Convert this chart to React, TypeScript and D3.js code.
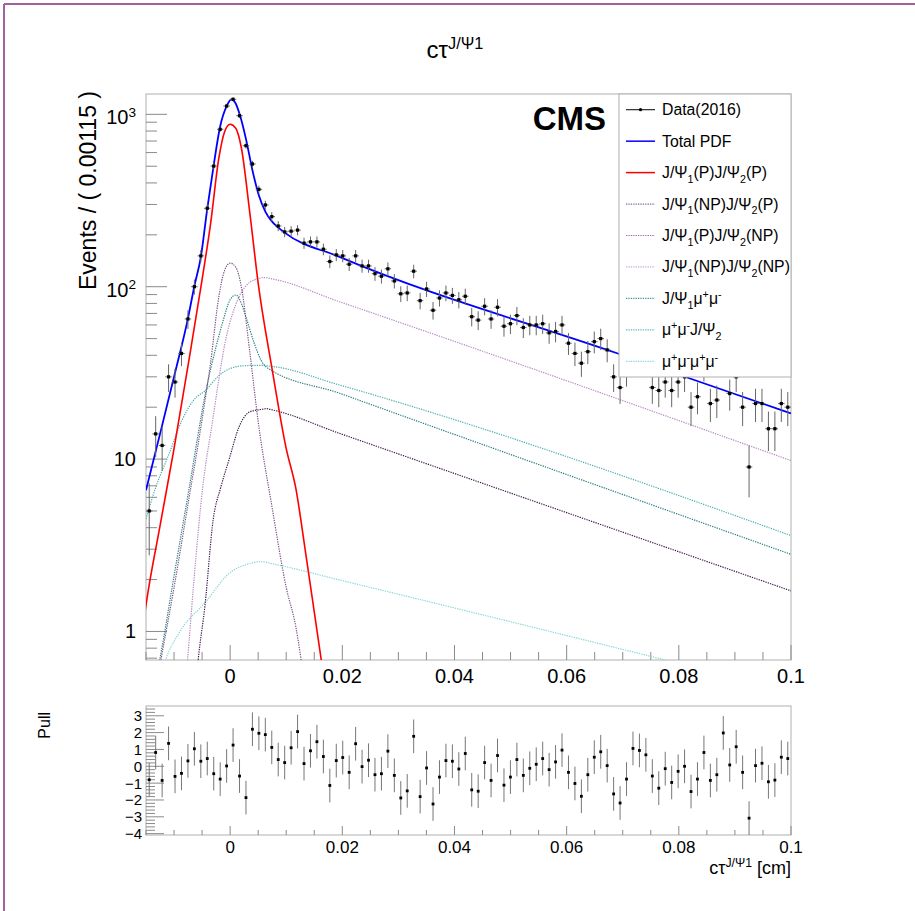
import React from 'react';
import * as d3 from 'd3';

// ---------- data ----------
const xMin = -0.015;
const xMax = 0.1;
const binWidth = 0.00115;

const dataCounts = [
  5, 14, 12, 30, 28, 41, 65, 100, 151, 285,
  501, 819, 1117, 1222, 982, 658, 515, 367, 298, 255,
  225, 208, 210, 213, 179, 182, 182, 165, 140, 153,
  151, 135, 151, 132, 132, 119, 115, 127, 108, 91,
  92, 123, 83, 97, 73, 86, 92, 89, 84, 88,
  67, 64, 77, 65, 76, 59, 61, 68, 58, 60,
  60, 61, 54, 55, 60, 47, 41, 36, 42, 48,
  50, 43, 30, 26, 32, 42, 40, 36, 26, 25,
  28, 25, 28, 30, 20, 23, 34, 21, 22, 36,
  24, 30, 20, 9, 21, 21, 15, 15, 21, 20,
];

const pullValues = [
  -0.8, 0.82, -0.84, 1.36, -0.6, -0.42, 0.32, 1.04, 0.3, 0.46,
  -0.44, -0.76, 0.02, 1.26, -0.58, -1.86, 2.2, 1.96, 1.88, 1.12,
  0.4, 0.22, 1.1, 2.06, 0.16, 0.92, 1.46, 0.58, -1.14, 0.34,
  0.52, -0.36, 1.34, -0.02, 0.36, -0.5, -0.44, 0.9, -0.54, -1.88,
  -1.46, 1.78, -1.8, -0.1, -2.24, -0.64, 0.34, 0.3, -0.16, 0.76,
  -1.4, -1.48, 0.22, -0.84, 0.64, -1.12, -0.64, 0.4, -0.54, -0.12,
  0.12, 0.46, -0.2, 0.26, 0.96, -0.36, -1.02, -1.78, -0.5, 0.54,
  0.86, 0.04, -1.64, -2.18, -0.76, 1.06, 0.94, 0.68, -0.58, -1.3,
  -0.14, -0.96, -0.3, 0, -1.5, -0.76, 0.82, -0.84, -0.5, 1.98,
  0.08, 1.16, -0.36, -3.08, 0.04, 0.18, -0.92, -0.82, 0.54, 0.46,
];

// fit curves: [ctau, events]
const totalPdf: [number, number][] = [
  [-0.015, 6.6], [-0.0125, 14], [-0.01, 30], [-0.0075, 66], [-0.0064, 100],
  [-0.0052, 150], [-0.0041, 280], [-0.0029, 515], [-0.0018, 845], [-0.0006, 1120],
  [0.0002, 1222], [0.0009, 1170], [0.0017, 1000], [0.0028, 725], [0.004, 470],
  [0.0051, 340], [0.0063, 272], [0.0074, 240], [0.0086, 220], [0.0097, 206],
  [0.0195, 149], [0.069, 41.1], [0.1, 18.4],
];
const promptPrompt: [number, number][] = [
  [-0.0165, 0.6], [-0.015, 1.42], [-0.0125, 4.1], [-0.01, 11.5], [-0.0075, 35],
  [-0.005, 110], [-0.0035, 230], [-0.002, 560], [-0.001, 790], [0, 875],
  [0.001, 830], [0.002, 640], [0.0035, 270], [0.005, 105], [0.0075, 33],
  [0.01, 11.5], [0.0117, 6.8], [0.0135, 2.8], [0.015, 1.3], [0.0165, 0.6],
];
const nonpromptPrompt: [number, number][] = [
  [-0.0065, 0.35], [-0.0057, 0.683], [-0.0045, 1.4], [-0.003, 4.5], [-0.0017, 6.8],
  [-0.0002, 9.9], [0.0016, 15.4], [0.0035, 18.8], [0.0055, 19.4], [0.0065, 19.6],
  [0.0075, 19.3], [0.0195, 14.1], [0.1, 1.72],
];
const promptNonprompt: [number, number][] = [
  [-0.015, 0.22], [-0.0125, 0.64], [-0.01, 1.8], [-0.0075, 5.5], [-0.005, 17],
  [-0.0035, 36], [-0.002, 88], [-0.001, 124], [0, 137], [0.001, 130],
  [0.002, 100], [0.0035, 42], [0.005, 16.5], [0.0075, 5.2], [0.01, 1.8],
  [0.0117, 1.07], [0.0135, 0.44], [0.015, 0.2],
];
const nonpromptNonprompt: [number, number][] = [
  [-0.0085, 0.35], [-0.0076, 0.683], [-0.0065, 1.9], [-0.0049, 6.8], [-0.0032, 16.1],
  [-0.0008, 49], [0.0016, 87.5], [0.0035, 106], [0.0045, 110], [0.006, 113],
  [0.0075, 111], [0.0195, 81.8], [0.1, 9.8],
];
const jpsi1MuMu: [number, number][] = [
  [-0.015, 0.3], [-0.0125, 0.7], [-0.01, 2.1], [-0.0073, 6.8], [-0.0043, 25],
  [-0.0025, 45], [-0.0014, 61], [0, 84], [0.001, 89.5], [0.002, 80],
  [0.0028, 67], [0.0043, 47], [0.0055, 37.5], [0.0064, 34.3], [0.0195, 24.1],
  [0.1, 2.8],
];
const muMuJpsi2: [number, number][] = [
  [-0.015, 4.5], [-0.0133, 6.8], [-0.011, 10.5], [-0.0085, 17], [-0.0065, 22],
  [-0.0043, 25.2], [-0.002, 30.5], [0, 33.5], [0.0025, 34.8], [0.0052, 35],
  [0.0075, 34.5], [0.0195, 26.9], [0.1, 3.6],
];
const muMuMuMu: [number, number][] = [
  [-0.013, 0.45], [-0.0115, 0.683], [-0.0091, 0.98], [-0.0043, 1.49], [-0.0002, 2.17],
  [0.003, 2.45], [0.0055, 2.54], [0.008, 2.45], [0.0195, 1.99], [0.1, 0.45],
];

const mainYTicks = [1, 10, 100, 1000];
const mainXTicks = [0, 0.02, 0.04, 0.06, 0.08, 0.1];
const pullYTicks = [3, 2, 1, 0, -1, -2, -3, -4];

// ---------- layout ----------
const W = 915;
const H = 911;
const L = 146, R = 791;
const T1 = 94, B1 = 660;
const T2 = 706, B2 = 835;

const FONT = '"Liberation Sans", Arial, Helvetica, sans-serif';

type Seg = { t: string; sub?: boolean; sup?: boolean };

function RichText({ segs, x, y, size, anchor = 'start', fill = '#000', transform }: {
  segs: Seg[]; x: number; y: number; size: number; anchor?: string; fill?: string; transform?: string;
}) {
  const small = size * 0.68;
  let cur = 0;
  return (
    <text x={x} y={y} fontSize={size} fontFamily={FONT} textAnchor={anchor} fill={fill} transform={transform}>
      {segs.map((s, i) => {
        const target = s.sub ? size * 0.3 : s.sup ? -size * 0.38 : 0;
        const dy = target - cur;
        cur = target;
        return (
          <tspan key={i} dy={dy} fontSize={s.sub || s.sup ? small : size}>{s.t}</tspan>
        );
      })}
    </text>
  );
}

export default function App() {
  const xs = d3.scaleLinear().domain([xMin, xMax]).range([L, R]);
  const ys = d3.scaleLog().domain([0.683, 1312]).range([B1, T1]);
  const yp = d3.scaleLinear().domain([-4.08, 3.58]).range([B2, T2]);

  const line = d3.line<[number, number]>()
    .x((d) => xs(d[0]))
    .y((d) => ys(d[1]))
    .curve(d3.curveMonotoneX);

  const bins = dataCounts.map((n, i) => ({
    x: xMin + binWidth * (i + 0.5),
    n,
    err: Math.sqrt(n),
    pull: pullValues[i],
  }));

  const logMinor: number[] = [];
  for (let e = -1; e <= 3; e++) {
    for (let k = 2; k <= 9; k++) {
      const v = k * Math.pow(10, e);
      if (v > 0.683 && v < 1312) logMinor.push(v);
    }
  }
  const xMinor: number[] = [];
  for (let k = -3; k <= 20; k++) {
    const v = k * 0.005;
    if (v >= xMin - 1e-9 && v <= xMax + 1e-9 && Math.abs(v / 0.02 - Math.round(v / 0.02)) > 1e-6) xMinor.push(v);
  }
  const pullMinor: number[] = [];
  for (let k = -20; k <= 17; k++) {
    const v = k * 0.2;
    if (v >= -4.08 && v <= 3.58 && Math.abs(v - Math.round(v)) > 1e-6) pullMinor.push(v);
  }

  const axisCol = '#8a8a8a';
  const dotted = '1.3 1.1';

  const curves = [
    { d: muMuMuMu, color: '#86d6d6', dash: dotted, w: 1.2 },
    { d: muMuJpsi2, color: '#4eb0b0', dash: dotted, w: 1.2 },
    { d: jpsi1MuMu, color: '#2a7f80', dash: dotted, w: 1.2 },
    { d: nonpromptNonprompt, color: '#b58ac4', dash: dotted, w: 1.2 },
    { d: promptNonprompt, color: '#7a5587', dash: dotted, w: 1.2 },
    { d: nonpromptPrompt, color: '#3f1c4c', dash: dotted, w: 1.2 },
    { d: promptPrompt, color: '#ff0000', dash: undefined, w: 1.6 },
    { d: totalPdf, color: '#0000ff', dash: undefined, w: 1.8 },
  ];

  const legendItems: { segs: Seg[]; color: string; dash?: string; w: number; data?: boolean }[] = [
    { segs: [{ t: 'Data(2016)' }], color: '#000', w: 1, data: true },
    { segs: [{ t: 'Total PDF' }], color: '#0000ff', w: 1.5 },
    { segs: [{ t: 'J/Ψ' }, { t: '1', sub: true }, { t: '(P)J/Ψ' }, { t: '2', sub: true }, { t: '(P)' }], color: '#ff0000', w: 1.5 },
    { segs: [{ t: 'J/Ψ' }, { t: '1', sub: true }, { t: '(NP)J/Ψ' }, { t: '2', sub: true }, { t: '(P)' }], color: '#7d6a8a', dash: dotted, w: 1.2 },
    { segs: [{ t: 'J/Ψ' }, { t: '1', sub: true }, { t: '(P)J/Ψ' }, { t: '2', sub: true }, { t: '(NP)' }], color: '#9a6aa5', dash: dotted, w: 1.2 },
    { segs: [{ t: 'J/Ψ' }, { t: '1', sub: true }, { t: '(NP)J/Ψ' }, { t: '2', sub: true }, { t: '(NP)' }], color: '#c9a9d4', dash: dotted, w: 1.2 },
    { segs: [{ t: 'J/Ψ' }, { t: '1', sub: true }, { t: 'μ' }, { t: '+', sup: true }, { t: 'μ' }, { t: '-', sup: true }], color: '#3a9a9a', dash: dotted, w: 1.2 },
    { segs: [{ t: 'μ' }, { t: '+', sup: true }, { t: 'μ' }, { t: '-', sup: true }, { t: 'J/Ψ' }, { t: '2', sub: true }], color: '#5cbcbc', dash: dotted, w: 1.2 },
    { segs: [{ t: 'μ' }, { t: '+', sup: true }, { t: 'μ' }, { t: '-', sup: true }, { t: 'μ' }, { t: '+', sup: true }, { t: 'μ' }, { t: '-', sup: true }], color: '#8ad8d8', dash: dotted, w: 1.2 },
  ];
  const legL = 619, legT = 94, legR = 791, legB = 377;
  const legStep = (legB - legT) / legendItems.length;

  const titleSegs: Seg[] = [{ t: 'cτ' }, { t: 'J/Ψ1', sup: true }];
  const xTitleSegs: Seg[] = [{ t: 'cτ' }, { t: 'J/Ψ1', sup: true }, { t: ' [cm]' }];

  return (
    <div style={{ position: 'absolute', left: 0, top: 0 }}>
      <svg width={W} height={H} style={{ display: 'block', background: '#fff' }}>
        <defs>
          <clipPath id="mainClip">
            <rect x={L} y={T1} width={R - L} height={B1 - T1} />
          </clipPath>
          <clipPath id="pullClip">
            <rect x={L} y={T2} width={R - L} height={B2 - T2} />
          </clipPath>
        </defs>

        <line x1={4} y1={4} x2={W} y2={4} stroke="#a0619c" strokeWidth={2} />
        <line x1={4} y1={4} x2={4} y2={H} stroke="#a0619c" strokeWidth={2} />

        <RichText segs={titleSegs} x={455} y={58} size={24} anchor="middle" />

        {/* ---------- main pad ---------- */}
        <rect x={L} y={T1} width={R - L} height={B1 - T1} fill="none" stroke="#b0b0b0" strokeWidth={1} />

        {mainYTicks.map((v) => (
          <line key={'ym' + v} x1={L} x2={L + 21} y1={ys(v)} y2={ys(v)} stroke={axisCol} strokeWidth={1} />
        ))}
        {logMinor.map((v) => (
          <line key={'yn' + v} x1={L} x2={L + 11} y1={ys(v)} y2={ys(v)} stroke={axisCol} strokeWidth={1} />
        ))}
        {mainXTicks.map((v) => (
          <line key={'xm' + v} x1={xs(v)} x2={xs(v)} y1={B1} y2={B1 - 15} stroke={axisCol} strokeWidth={1} />
        ))}
        {xMinor.map((v) => (
          <line key={'xn' + v} x1={xs(v)} x2={xs(v)} y1={B1} y2={B1 - 8} stroke={axisCol} strokeWidth={1} />
        ))}

        <RichText segs={[{ t: '10' }, { t: '3', sup: true }]} x={136} y={ys(1000) + 10} size={20} anchor="end" />
        <RichText segs={[{ t: '10' }, { t: '2', sup: true }]} x={136} y={ys(100) + 10} size={20} anchor="end" />
        <text x={136} y={ys(10) + 7} fontSize={20} fontFamily={FONT} textAnchor="end">10</text>
        <text x={136} y={ys(1) + 7} fontSize={20} fontFamily={FONT} textAnchor="end">1</text>

        {mainXTicks.map((v) => (
          <text key={'xl' + v} x={xs(v)} y={683} fontSize={20} fontFamily={FONT} textAnchor="middle">
            {d3.format('~g')(v)}
          </text>
        ))}

        <text transform="translate(96,91) rotate(-90)" fontSize={23} fontFamily={FONT} textAnchor="end">
          Events / ( 0.00115 )
        </text>

        <g clipPath="url(#mainClip)">
          {curves.map((c, i) => (
            <path key={'c' + i} d={line(c.d) || ''} fill="none" stroke={c.color}
              strokeWidth={c.w} strokeDasharray={c.dash} />
          ))}
          {bins.map((b, i) => {
            const cx = xs(b.x);
            const cy = ys(b.n);
            return (
              <g key={'d' + i}>
                <line x1={cx} x2={cx} y1={ys(b.n + b.err)} y2={ys(Math.max(b.n - b.err, 0.3))} stroke="#666" strokeWidth={1} />
                <line x1={xs(b.x - binWidth / 2)} x2={xs(b.x + binWidth / 2)} y1={cy} y2={cy} stroke="#666" strokeWidth={1} />
                <rect x={cx - 1.6} y={cy - 1.6} width={3.2} height={3.2} fill="#000" />
              </g>
            );
          })}
        </g>

        <text x={606} y={130} fontSize={33} fontWeight="bold" fontFamily={FONT} textAnchor="end">CMS</text>

        <rect x={legL} y={legT} width={legR - legL} height={legB - legT} fill="#fff" stroke="#b0b0b0" strokeWidth={1} />
        {legendItems.map((it, i) => {
          const cy = legT + legStep * (i + 0.5);
          return (
            <g key={'l' + i}>
              <line x1={626} x2={655} y1={cy} y2={cy} stroke={it.color} strokeWidth={it.w} strokeDasharray={it.dash} />
              {it.data && <circle cx={640.5} cy={cy} r={1.6} fill="#000" />}
              <RichText segs={it.segs} x={662} y={cy + 5.5} size={15.8} />
            </g>
          );
        })}

        {/* ---------- pull pad ---------- */}
        <rect x={L} y={T2} width={R - L} height={B2 - T2} fill="none" stroke="#b0b0b0" strokeWidth={1} />
        {pullYTicks.map((v) => (
          <line key={'pm' + v} x1={L} x2={L + 18} y1={yp(v)} y2={yp(v)} stroke={axisCol} strokeWidth={1} />
        ))}
        {pullMinor.map((v) => (
          <line key={'pn' + v} x1={L} x2={L + 9} y1={yp(v)} y2={yp(v)} stroke={axisCol} strokeWidth={1} />
        ))}
        {mainXTicks.map((v) => (
          <line key={'pxm' + v} x1={xs(v)} x2={xs(v)} y1={B2} y2={B2 - 9} stroke={axisCol} strokeWidth={1} />
        ))}
        {xMinor.map((v) => (
          <line key={'pxn' + v} x1={xs(v)} x2={xs(v)} y1={B2} y2={B2 - 5} stroke={axisCol} strokeWidth={1} />
        ))}
        {pullYTicks.map((v) => (
          <text key={'pl' + v} x={142} y={yp(v) + 5.5} fontSize={15} fontFamily={FONT} textAnchor="end">
            {v < 0 ? '−' + Math.abs(v) : String(v)}
          </text>
        ))}
        {mainXTicks.map((v) => (
          <text key={'pxl' + v} x={xs(v)} y={853} fontSize={17} fontFamily={FONT} textAnchor="middle">
            {d3.format('~g')(v)}
          </text>
        ))}
        <text transform="translate(50,712) rotate(-90)" fontSize={16} fontFamily={FONT} textAnchor="end">Pull</text>
        <RichText segs={xTitleSegs} x={791} y={874} size={18} anchor="end" />

        <g clipPath="url(#pullClip)">
          {bins.map((b, i) => {
            const cx = xs(b.x);
            return (
              <g key={'p' + i}>
                <line x1={cx} x2={cx} y1={yp(b.pull + 1)} y2={yp(b.pull - 1)} stroke="#777" strokeWidth={1} />
                <rect x={cx - 1.4} y={yp(b.pull) - 1.4} width={2.8} height={2.8} fill="#000" />
              </g>
            );
          })}
        </g>
      </svg>
    </div>
  );
}
